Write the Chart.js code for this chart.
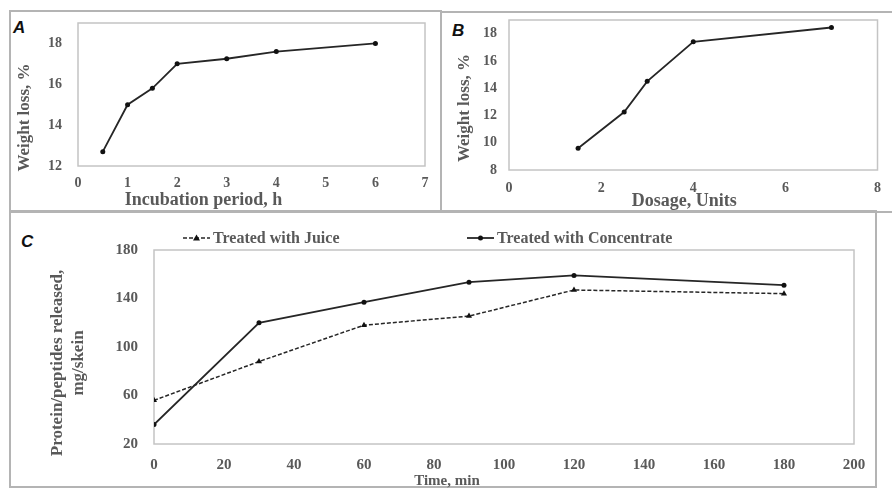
<!DOCTYPE html>
<html>
<head>
<meta charset="utf-8">
<script src="https://cdn.jsdelivr.net/npm/chart.js@4.4.1/dist/chart.umd.min.js"></script>
<style>
  body { margin: 0; background: #fff; }
  #page { position: relative; width: 892px; height: 488px; overflow: hidden; background: #fff; }
  .frame { position: absolute; border: 2px solid #b4b4b4; box-sizing: border-box; }
  .tag { position: absolute; font: italic bold 17px "Liberation Sans", Arial, sans-serif; color: #111; line-height: 1; }
  canvas { position: absolute; left: 0; top: 0; }
</style>
</head>
<body>
<div id="page">
  <div class="frame" style="left:9px;top:10px;width:433px;height:203px"></div>
  <div class="frame" style="left:440px;top:11px;width:480px;height:202px"></div>
  <div class="frame" style="left:9px;top:210px;width:868px;height:278px"></div>
  <div class="tag" style="left:13px;top:19px">A</div>
  <div class="tag" style="left:452px;top:22px">B</div>
  <div class="tag" style="left:21px;top:233px">C</div>
  <canvas id="chart-a" width="892" height="488"></canvas>
  <canvas id="chart-b" width="892" height="488"></canvas>
  <canvas id="chart-c" width="892" height="488"></canvas>
</div>
<script>
// panel A - incubation period
const incubationHours = [0.5, 1, 1.5, 2, 3, 4, 6];
const weightLossByTime = [12.7, 15.0, 15.8, 17.0, 17.25, 17.6, 18.0];
const incubationTicks = [0, 1, 2, 3, 4, 5, 6, 7];
const weightTicksA = [12, 14, 16, 18];

// panel B - dosage
const dosageUnits = [1.5, 2.5, 3, 4, 7];
const weightLossByDose = [9.6, 12.25, 14.5, 17.4, 18.45];
const dosageTicks = [0, 2, 4, 6, 8];
const weightTicksB = [8, 10, 12, 14, 16, 18];

// panel C - protein release
const timeMin = [0, 30, 60, 90, 120, 180];
const juiceRelease = [56, 88, 118, 125.5, 147, 144];
const concentrateRelease = [36, 120, 137, 153.5, 159, 151];
const timeTicks = [0, 20, 40, 60, 80, 100, 120, 140, 160, 180, 200];
const releaseTicks = [20, 60, 100, 140, 180];
const seriesNames = ['Treated with Juice', 'Treated with Concentrate'];

const serif = '"Liberation Serif", "Times New Roman", serif';
const grey = '#595959';
const ink = '#262626';

let pairs = (xs, ys) => xs.map((x, i) => ({ x: x, y: ys[i] }));

let scale = o => ({
  type: 'linear',
  min: o.min,
  max: o.max,
  grid: { display: false, drawTicks: false },
  border: { display: false },
  afterBuildTicks: s => { s.ticks = o.ticks.map(v => ({ value: v })); },
  afterFit: s => {
    if (s.isHorizontal()) s.height = o.size;
    else s.width = o.size;
  },
  ticks: {
    padding: o.pad,
    color: grey,
    font: { family: serif, size: o.font, weight: 'bold', lineHeight: 1 }
  }
});

// grey box round the plot area, like excel
const plotFrame = {
  id: 'plotFrame',
  beforeDatasetsDraw(chart) {
    let { ctx, chartArea: a } = chart;
    ctx.save();
    ctx.strokeStyle = '#c4c4c4';
    ctx.lineWidth = 1.5;
    ctx.strokeRect(a.left, a.top, a.right - a.left, a.bottom - a.top);
    ctx.restore();
  }
};

// axis titles sit off-centre in the original, so place them by hand
const axisTitles = {
  id: 'axisTitles',
  afterDraw(chart, args, opts) {
    let { ctx, chartArea: a } = chart;
    ctx.save();
    ctx.fillStyle = grey;
    ctx.textAlign = 'center';
    ctx.textBaseline = 'middle';
    let xt = opts.x;
    ctx.font = 'bold ' + xt.size + 'px ' + serif;
    ctx.fillText(xt.text, (a.left + a.right) / 2 + xt.dx, a.bottom + xt.dy);
    let yt = opts.y;
    ctx.font = 'bold ' + yt.size + 'px ' + serif;
    let lines = [].concat(yt.text);
    lines.forEach((line, i) => {
      ctx.save();
      ctx.translate(a.left - yt.dx + i * (yt.gap || 0), (a.top + a.bottom) / 2 + yt.dy);
      ctx.rotate(-Math.PI / 2);
      ctx.fillText(line, 0, 0);
      ctx.restore();
    });
    ctx.restore();
  }
};

// legend row: line sample with marker, then text
const lineLegend = {
  id: 'lineLegend',
  afterDraw(chart, args, opts) {
    if (!opts.starts) return;
    let { ctx, chartArea: a } = chart;
    let y = a.top + opts.dy;
    ctx.save();
    chart.data.datasets.forEach((ds, i) => {
      let x0 = a.left + opts.starts[i];
      ctx.strokeStyle = ds.borderColor;
      ctx.lineWidth = ds.borderWidth;
      ctx.setLineDash(ds.borderDash || []);
      ctx.beginPath();
      ctx.moveTo(x0, y);
      ctx.lineTo(x0 + 27, y);
      ctx.stroke();
      ctx.setLineDash([]);
      ctx.fillStyle = ds.pointBackgroundColor;
      ctx.beginPath();
      let cx = x0 + 13.5;
      if (ds.pointStyle === 'triangle') {
        ctx.moveTo(cx, y - 3.5);
        ctx.lineTo(cx + 3.5, y + 2.5);
        ctx.lineTo(cx - 3.5, y + 2.5);
        ctx.closePath();
      } else {
        ctx.arc(cx, y, 2.5, 0, Math.PI * 2);
      }
      ctx.fill();
      ctx.fillStyle = grey;
      ctx.font = 'bold 16px ' + serif;
      ctx.textAlign = 'left';
      ctx.textBaseline = 'middle';
      ctx.fillText(ds.label, x0 + 30, y + 1);
    });
    ctx.restore();
  }
};

Chart.register(plotFrame, axisTitles, lineLegend);

let baseOptions = {
  responsive: false,
  animation: false,
  events: [],
  plugins: { legend: { display: false }, tooltip: { enabled: false } }
};

var chartA = new Chart(document.getElementById('chart-a'), {
  type: 'line',
  data: {
    datasets: [{
      data: pairs(incubationHours, weightLossByTime),
      borderColor: ink,
      borderWidth: 1.8,
      pointRadius: 2.5,
      pointBackgroundColor: '#111',
      pointBorderWidth: 0
    }]
  },
  options: {
    ...baseOptions,
    layout: { padding: { left: 12, top: 21, right: 467, bottom: 277 } },
    scales: {
      x: scale({ min: 0, max: 7, ticks: incubationTicks, size: 45, pad: 10, font: 14 }),
      y: scale({ min: 12, max: 19, ticks: weightTicksA, size: 66, pad: 16, font: 14 })
    },
    plugins: {
      ...baseOptions.plugins,
      axisTitles: {
        x: { text: 'Incubation period, h', size: 18, dx: -48, dy: 34 },
        y: { text: 'Weight loss, %', size: 17, dx: 53, dy: 23 }
      }
    }
  }
});

var chartB = new Chart(document.getElementById('chart-b'), {
  type: 'line',
  data: {
    datasets: [{
      data: pairs(dosageUnits, weightLossByDose),
      borderColor: ink,
      borderWidth: 1.8,
      pointRadius: 2.5,
      pointBackgroundColor: '#111',
      pointBorderWidth: 0
    }]
  },
  options: {
    ...baseOptions,
    layout: { padding: { left: 442, top: 20, right: 5, bottom: 277 } },
    scales: {
      x: scale({ min: 0, max: 8, ticks: dosageTicks, size: 41, pad: 11, font: 14 }),
      y: scale({ min: 8, max: 19, ticks: weightTicksB, size: 67, pad: 12, font: 14 })
    },
    plugins: {
      ...baseOptions.plugins,
      axisTitles: {
        x: { text: 'Dosage, Units', size: 18, dx: -9, dy: 31 },
        y: { text: 'Weight loss, %', size: 17, dx: 44, dy: 13 }
      }
    }
  }
});

var chartC = new Chart(document.getElementById('chart-c'), {
  type: 'line',
  data: {
    datasets: [{
      label: seriesNames[0],
      data: pairs(timeMin, juiceRelease),
      borderColor: ink,
      borderWidth: 1.5,
      borderDash: [4, 2],
      pointStyle: 'triangle',
      pointRadius: 3.5,
      pointBackgroundColor: '#111',
      pointBorderWidth: 0
    }, {
      label: seriesNames[1],
      data: pairs(timeMin, concentrateRelease),
      borderColor: ink,
      borderWidth: 1.8,
      pointStyle: 'circle',
      pointRadius: 2.5,
      pointBackgroundColor: '#111',
      pointBorderWidth: 0
    }]
  },
  options: {
    ...baseOptions,
    layout: { padding: { left: 12, top: 250, right: 38, bottom: 0 } },
    scales: {
      x: scale({ min: 0, max: 200, ticks: timeTicks, size: 44, pad: 14, font: 15 }),
      y: scale({ min: 20, max: 180, ticks: releaseTicks, size: 142, pad: 16, font: 15 })
    },
    plugins: {
      ...baseOptions.plugins,
      axisTitles: {
        x: { text: 'Time, min', size: 15, dx: -57, dy: 37 },
        y: { text: ['Protein/peptides released,', 'mg/skein'], size: 17, dx: 96, dy: 16, gap: 20.5 }
      },
      lineLegend: { starts: [29, 313], dy: -12 }
    }
  }
});
</script>
</body>
</html>
